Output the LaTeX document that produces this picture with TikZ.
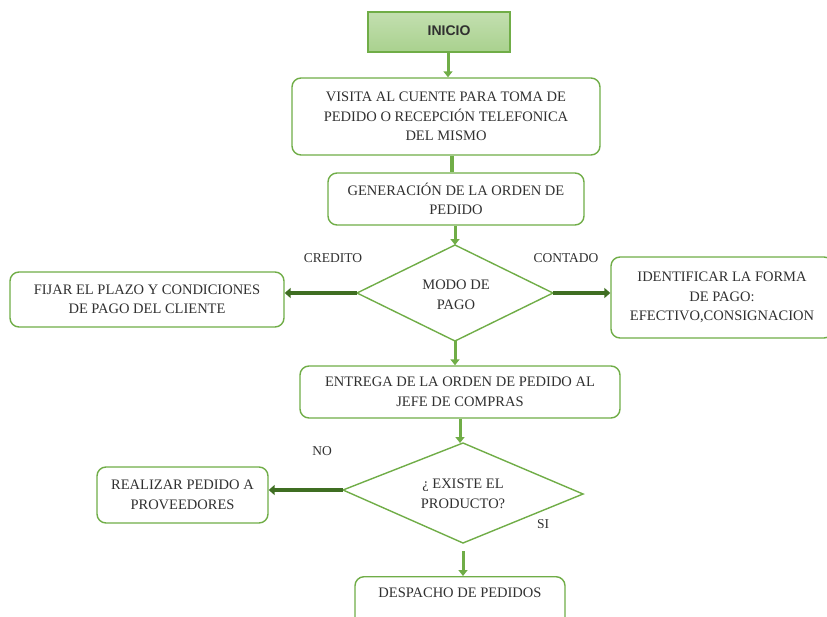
\documentclass[tikz,border=0pt]{standalone}
\usepackage{fontspec}
\setmainfont{Liberation Serif}
\newfontfamily\headsans{Liberation Sans}
\usetikzlibrary{shapes.geometric,arrows.meta}
\definecolor{gborder}{HTML}{70AD47}
\definecolor{gfill}{HTML}{A9D18E}
\definecolor{gdark}{HTML}{3F6E22}
\definecolor{txt}{HTML}{303030}
\tikzset{
  procbox/.style={draw=gborder, line width=1.4pt, rounded corners=9pt, fill=white,
    align=center, text=txt, font=\fontsize{14.5}{19.5}\selectfont, inner sep=0pt},
  downarrow/.style={draw=gborder, line width=3pt, -{Triangle[length=6pt,width=9pt]}},
  sidearrow/.style={draw=gdark, line width=4.5pt, -{Triangle[length=6pt,width=10pt]}},
  lbl/.style={text=txt, font=\fontsize{13.5}{16}\selectfont, inner sep=0pt},
  dtext/.style={text=txt, align=center, inner sep=0pt, font=\fontsize{14.5}{20}\selectfont}
}
\begin{document}
\begin{tikzpicture}[x=1pt,y=-1pt]
\useasboundingbox (0,0) rectangle (827,616);
% start
\node[draw=gborder, line width=1.4pt, top color=gfill!70, bottom color=gfill, minimum width=142pt, minimum height=40pt] (inicio) at (439,32) {};
\node[text=txt, font=\headsans\bfseries\fontsize{14}{16}\selectfont, inner sep=0pt] (iniciotxt) at (449,31) {INICIO};
\node[procbox, minimum width=308pt, minimum height=77pt] (visita) at (446,116.5)
  {VISITA AL CUENTE PARA TOMA DE\\PEDIDO O RECEPCIÓN TELEFONICA\\DEL MISMO};
\node[procbox, minimum width=256pt, minimum height=52pt] (gen) at (456,199)
  {GENERACIÓN DE LA ORDEN DE\\PEDIDO};
\coordinate (mT) at (455,245);
\coordinate (mB) at (455,341);
\coordinate (mL) at (357,293);
\coordinate (mR) at (553,293);
\draw[gborder, line width=1.4pt, fill=white] (mT) -- (mR) -- (mB) -- (mL) -- cycle;
\node[dtext] (modotxt) at (456,295) {MODO DE\\PAGO};
\node[procbox, minimum width=274pt, minimum height=55pt] (fijar) at (147,299.5)
  {FIJAR EL PLAZO Y CONDICIONES\\DE PAGO DEL CLIENTE};
\node[procbox, minimum width=222pt, minimum height=81pt] (ident) at (722,297.5)
  {IDENTIFICAR LA FORMA\\DE PAGO:\\EFECTIVO,CONSIGNACION};
\node[procbox, minimum width=320pt, minimum height=52pt] (entrega) at (460,392)
  {ENTREGA DE LA ORDEN DE PEDIDO AL\\JEFE DE COMPRAS};
\coordinate (eT) at (463,443);
\coordinate (eB) at (463,543);
\coordinate (eL) at (343,490);
\coordinate (eR) at (583,494);
\draw[gborder, line width=1.4pt, fill=white] (eT) -- (eR) -- (eB) -- (eL) -- cycle;
\node[dtext] (existe) at (463,494) {¿ EXISTE EL\\PRODUCTO?};
\node[procbox, minimum width=171pt, minimum height=56pt] (realizar) at (182.5,495)
  {REALIZAR PEDIDO A\\PROVEEDORES};
\node[procbox, minimum width=210pt, minimum height=50pt, anchor=north] (despacho) at (460,576) {};
\node[procbox, draw=none, fill=none] (desptxt) at (460,593) {DESPACHO DE PEDIDOS};
% labels
\node[lbl] (credito) at (333,258) {CREDITO};
\node[lbl] (contado) at (566,258) {CONTADO};
\node[lbl] (no) at (322,451) {NO};
\node[lbl] (si) at (543,524) {SI};
% connectors
\draw[downarrow] (inicio.south -| 448,0) -- (visita.north -| 448,0);
\draw[gborder, line width=3.5pt] (visita.south -| 452,0) -- (gen.north -| 452,0);
\draw[downarrow] (gen.south -| 455,0) -- (mT);
\draw[sidearrow] (mL) -- (fijar.east |- mL);
\draw[sidearrow] (mR) -- (ident.west |- mR);
\draw[downarrow] (mB) -- (entrega.north -| 455,0);
\draw[downarrow] (entrega.south -| 460,0) -- (eT -| 460,0);
\draw[sidearrow] (eL) -- (realizar.east |- eL);
\draw[downarrow] (463,551) -- (despacho.north -| 463,0);
\end{tikzpicture}
\end{document}
